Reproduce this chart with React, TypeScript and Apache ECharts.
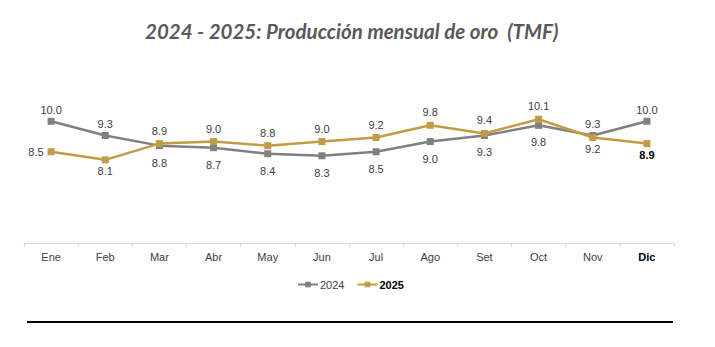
import React, { useEffect, useRef } from "react";
import * as echarts from "echarts";

const months = ["Ene", "Feb", "Mar", "Abr", "May", "Jun", "Jul", "Ago", "Set", "Oct", "Nov", "Dic"];
const values2024 = [10.0, 9.3, 8.8, 8.7, 8.4, 8.3, 8.5, 9.0, 9.3, 9.8, 9.3, 10.0];
const values2025 = [8.5, 8.1, 8.9, 9.0, 8.8, 9.0, 9.2, 9.8, 9.4, 10.1, 9.2, 8.9];
const labelPos2024 = ["top", "top", "bottom", "bottom", "bottom", "bottom", "bottom", "bottom", "bottom", "bottom", "top", "top"];
const labelPos2025 = ["left", "bottom", "top", "top", "top", "top", "top", "top", "top", "top", "bottom", "bottom"];
const titleText = "2024 - 2025: Producción mensual de oro  (TMF)";

const GRAY = "#808080";
const GOLD = "#C29B45";
const LABEL_COLOR = "#404040";

function labelDistance(series: string, pos: string): number {
  if (series === "2024") return pos === "top" ? 2 : 8;
  if (pos === "left") return 4;
  return pos === "top" ? 4 : 2;
}

export default function App() {
  const ref = useRef<HTMLDivElement>(null);
  useEffect(() => {
    document.body.style.margin = "0";
    if (!ref.current) return;
    const chart = echarts.init(ref.current, null, { renderer: "svg" });
    const data2024 = values2024.map((v, i) => ({
      value: v,
      label: { position: labelPos2024[i], distance: labelDistance("2024", labelPos2024[i]) },
    }));
    const data2025 = values2025.map((v, i) => ({
      value: v,
      label: {
        position: labelPos2025[i],
        distance: labelDistance("2025", labelPos2025[i]),
        fontWeight: i === values2025.length - 1 ? "bold" : "normal",
        color: i === values2025.length - 1 ? "#000" : LABEL_COLOR,
      },
    }));
    chart.setOption({
      animation: false,
      title: {
        text: titleText,
        left: 140,
        top: 16,
        textStyle: {
          fontFamily: "Lato",
          fontStyle: "italic",
          fontWeight: "bold",
          fontSize: 20.5,
          color: "#595959",
        },
      },
      grid: { left: 24, right: 41, top: 101, bottom: 104 },
      legend: {
        bottom: 52,
        left: 292,
        itemWidth: 20,
        itemHeight: 7,
        itemGap: 12,
        data: [
          { name: "2024" },
          { name: "2025", textStyle: { fontWeight: "bold", color: "#000" } },
        ],
        textStyle: { fontFamily: "Liberation Sans", fontSize: 11, color: LABEL_COLOR, padding: [0, 0, 0, -3] },
      },
      xAxis: {
        type: "category",
        data: months,
        boundaryGap: true,
        axisLine: { lineStyle: { color: "#D9D9D9", width: 1 } },
        axisTick: { show: true, length: 4, lineStyle: { color: "#D9D9D9" } },
        axisLabel: {
          fontFamily: "Liberation Sans",
          fontSize: 11,
          color: LABEL_COLOR,
          margin: 8,
          formatter: (v: string) => (v === "Dic" ? `{b|${v}}` : v),
          rich: { b: { fontFamily: "Liberation Sans", fontSize: 11, fontWeight: "bold", color: "#000" } },
        },
      },
      yAxis: { type: "value", min: 4, max: 11, show: false, splitLine: { show: false } },
      series: [
        {
          name: "2024",
          type: "line",
          data: data2024,
          symbol: "rect",
          symbolSize: 7,
          color: GRAY,
          lineStyle: { color: GRAY, width: 2.5 },
          itemStyle: { color: GRAY },
          label: {
            show: true,
            formatter: (p: any) => Number(p.value).toFixed(1),
            fontFamily: "Liberation Sans",
            fontSize: 11,
            color: LABEL_COLOR,
          },
        },
        {
          name: "2025",
          type: "line",
          data: data2025,
          symbol: "rect",
          symbolSize: 7,
          color: GOLD,
          lineStyle: { color: GOLD, width: 2.5 },
          itemStyle: { color: GOLD },
          label: {
            show: true,
            formatter: (p: any) => Number(p.value).toFixed(1),
            fontFamily: "Liberation Sans",
            fontSize: 11,
            color: LABEL_COLOR,
          },
        },
      ],
      graphic: [
        {
          type: "line",
          shape: { x1: 27, y1: 322, x2: 673, y2: 322 },
          style: { stroke: "#000", lineWidth: 2 },
        },
      ],
    });
    return () => chart.dispose();
  }, []);
  return <div ref={ref} style={{ width: 715, height: 347 }} />;
}
